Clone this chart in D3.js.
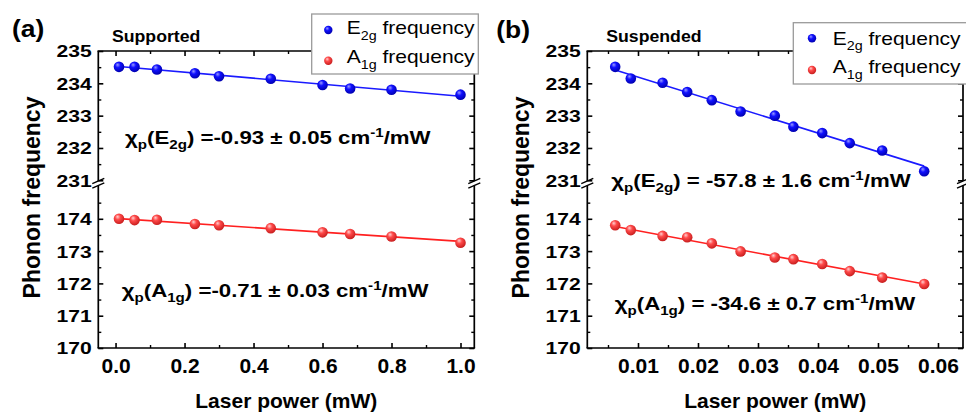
<!DOCTYPE html>
<html>
<head>
<meta charset="utf-8">
<script src="https://cdn.jsdelivr.net/npm/d3@7"></script>
<style>
  body { margin: 0; background: #fff; }
  svg { display: block; }
  text { font-family: "Liberation Sans", Arial, Helvetica, sans-serif; fill: #000; }
</style>
</head>
<body>
<svg id="chart" width="966" height="412"></svg>
<script>
// Raman peak positions (cm^-1) versus laser power (mW)
const supportedPower = [0.01, 0.055, 0.12, 0.23, 0.30, 0.45, 0.60, 0.68, 0.80, 1.00];
const supportedE2g = [234.51, 234.51, 234.43, 234.31, 234.22, 234.14, 233.95, 233.84, 233.80, 233.65];
const supportedA1g = [174.00, 173.96, 173.97, 173.84, 173.80, 173.71, 173.58, 173.53, 173.45, 173.26];

const suspendedPower = [0.0062, 0.0088, 0.0141, 0.0182, 0.0223, 0.0271, 0.0328, 0.0359, 0.0407, 0.0453, 0.0507, 0.0577];
const suspendedE2g = [234.51, 234.15, 234.02, 233.73, 233.48, 233.13, 233.00, 232.66, 232.46, 232.15, 231.92, 231.28];
const suspendedA1g = [173.80, 173.65, 173.47, 173.43, 173.24, 172.99, 172.80, 172.75, 172.60, 172.38, 172.18, 171.98];

// Power coefficients chi_p from the linear fits (cm^-1/mW), with their errors
const supportedSlopes = [-0.93, -0.71];
const supportedErrors = [0.05, 0.03];
const suspendedSlopes = [-57.8, -34.6];
const suspendedErrors = [1.6, 0.7];

// Axis ticks
const upperTicks = [231, 232, 233, 234, 235];
const lowerTicks = [170, 171, 172, 173, 174];
const supportedTicks = [0.0, 0.2, 0.4, 0.6, 0.8, 1.0];
const suspendedTicks = [0.01, 0.02, 0.03, 0.04, 0.05, 0.06];

const modeNames = ["E", "A"];
const modeSubs = ["2g", "1g"];
const modeColors = ["blue", "red"];

const svg = d3.select("#chart");
const FONT = "'Liberation Sans', Arial, Helvetica, sans-serif";

// Sphere-like marker fills
const defs = svg.append("defs");
[["blue", "#9a9aff", "#1010ff", "#0000b0"], ["red", "#ffd0d0", "#ff4a4a", "#c81e1e"]].forEach(([id, hi, mid, lo]) => {
  const g = defs.append("radialGradient").attr("id", "ball-" + id)
    .attr("cx", 0.42).attr("cy", 0.38).attr("r", 0.62).attr("fx", 0.36).attr("fy", 0.3);
  g.append("stop").attr("offset", "0%").attr("stop-color", hi);
  g.append("stop").attr("offset", "40%").attr("stop-color", mid);
  g.append("stop").attr("offset", "100%").attr("stop-color", lo);
});

// Shared broken y-axis: upper segment for E2g, lower segment for A1g
const yTop = 51, yBottom = 348, breakA = 181, breakB = 185.5;
const yUpper = d3.scaleLinear().domain([231, 235]).range([180.3, yTop]);
const yLower = d3.scaleLinear().domain([170, 175]).range([yBottom, 186.5]);
const yScales = [yUpper, yLower];

// Text with sub/superscripts: parts = [[text, "sub"|"sup"|undefined], ...]
function rich(sel, parts, fs, weight) {
  const t = sel.append("text").attr("font-size", fs).attr("font-weight", weight || "normal");
  let shift = 0;
  parts.forEach(([s, kind]) => {
    const target = kind === "sub" ? fs * 0.3 : kind === "sup" ? -fs * 0.4 : 0;
    t.append("tspan").attr("dy", target - shift).attr("font-size", kind ? fs * 0.68 : fs).text(s);
    shift = target;
  });
  return t;
}

const panels = [
  {
    power: supportedPower, series: [supportedE2g, supportedA1g],
    slopes: supportedSlopes, errors: supportedErrors, ticks: supportedTicks,
    x0: 98.3, x1: 474.3, domain: [-0.05, 1.04], minorStep: 0.1, fmt: ".1f", coefFmt: ".2f", eq: "=",
    tag: "(a)", tagX: 12, tagY: 37, title: "Supported", titleX: 112, yTitleX: 40,
    legend: { x: 311.7, y: 14, w: 166.6, h: 60, mx: 328.3, my: [30, 60.7], tx: 346.7, ty: [34.3, 63.3] },
    notes: [[125, 144], [121.7, 296.7]]
  },
  {
    power: suspendedPower, series: [suspendedE2g, suspendedA1g],
    slopes: suspendedSlopes, errors: suspendedErrors, ticks: suspendedTicks,
    x0: 587.3, x1: 963, domain: [0.00155, 0.06417], minorStep: 0.005, fmt: ".2f", coefFmt: ".1f", eq: "= ",
    tag: "(b)", tagX: 496.3, tagY: 38, title: "Suspended", titleX: 606.3, yTitleX: 528.5,
    legend: { x: 793.3, y: 22.7, w: 190, h: 61.3, mx: 812, my: [38.3, 70], tx: 832.7, ty: [45, 73.3] },
    notes: [[611.3, 186.7], [614.7, 310]]
  }
];

panels.forEach(p => {
  const g = svg.append("g");
  const x = d3.scaleLinear().domain(p.domain).range([p.x0, p.x1]);
  const xMinor = d3.range(Math.ceil(p.domain[0] / p.minorStep), Math.floor(p.domain[1] / p.minorStep) + 1)
    .map(i => +(i * p.minorStep).toFixed(6))
    .filter(v => !p.ticks.some(t => Math.abs(t - v) < 1e-9));

  // Frame with breaks on the vertical sides
  const frame = g.append("g").attr("stroke", "#000").attr("stroke-width", 1.7).attr("fill", "none");
  frame.append("line").attr("x1", p.x0 - 0.8).attr("x2", p.x1 + 0.8).attr("y1", yTop).attr("y2", yTop);
  frame.append("line").attr("x1", p.x0 - 0.8).attr("x2", p.x1 + 0.8).attr("y1", yBottom).attr("y2", yBottom);
  [p.x0, p.x1].forEach(xv => {
    frame.append("line").attr("x1", xv).attr("x2", xv).attr("y1", yTop).attr("y2", breakA);
    frame.append("line").attr("x1", xv).attr("x2", xv).attr("y1", breakB).attr("y2", yBottom);
    [breakA, breakB].forEach(yb => {
      frame.append("line").attr("stroke-width", 1.4)
        .attr("x1", xv - 6).attr("y1", yb + 2.6).attr("x2", xv + 6).attr("y2", yb - 2.6);
    });
  });

  // Ticks (all pointing inward)
  function styleAxis(sel, w) {
    sel.select(".domain").remove();
    sel.selectAll("line").attr("stroke-width", w);
  }
  const xMajorB = d3.axisBottom(x).tickValues(p.ticks).tickSizeInner(-5).tickSizeOuter(0).tickPadding(10).tickFormat(d3.format(p.fmt));
  const xAxisB = g.append("g").attr("transform", `translate(0,${yBottom})`).call(xMajorB);
  styleAxis(xAxisB, 1.6);
  xAxisB.selectAll("text").attr("font-family", FONT).attr("font-size", 21).attr("font-weight", "bold")
    .attr("y", 0).attr("dy", 0).attr("transform", "translate(0,25.3)");
  g.append("g").attr("transform", `translate(0,${yBottom})`)
    .call(d3.axisBottom(x).tickValues(xMinor).tickSizeInner(-3).tickSizeOuter(0).tickFormat(""))
    .call(s => styleAxis(s, 1.4));
  g.append("g").attr("transform", `translate(0,${yTop})`)
    .call(d3.axisTop(x).tickValues(p.ticks).tickSizeInner(-5).tickSizeOuter(0).tickFormat(""))
    .call(s => styleAxis(s, 1.6));
  g.append("g").attr("transform", `translate(0,${yTop})`)
    .call(d3.axisTop(x).tickValues(xMinor).tickSizeInner(-3).tickSizeOuter(0).tickFormat(""))
    .call(s => styleAxis(s, 1.4));

  [[yUpper, upperTicks], [yLower, lowerTicks]].forEach(([ys, tv]) => {
    const minorY = tv.map(v => v + 0.5).filter(v => v < ys.domain()[1]);
    const left = g.append("g").attr("transform", `translate(${p.x0},0)`)
      .call(d3.axisLeft(ys).tickValues(tv).tickSizeInner(-5).tickSizeOuter(0).tickPadding(6.6).tickFormat(d3.format("d")));
    styleAxis(left, 1.6);
    left.selectAll("text").attr("font-family", FONT).attr("font-size", 16.5).attr("font-weight", "bold")
      .attr("x", 0).attr("dy", 0).attr("transform", "translate(-6.6,5.9) scale(1.28,1)");
    g.append("g").attr("transform", `translate(${p.x0},0)`)
      .call(d3.axisLeft(ys).tickValues(minorY).tickSizeInner(-3).tickSizeOuter(0).tickFormat(""))
      .call(s => styleAxis(s, 1.4));
    g.append("g").attr("transform", `translate(${p.x1},0)`)
      .call(d3.axisRight(ys).tickValues(tv.filter(v => v !== 235)).tickSizeInner(-5).tickSizeOuter(0).tickFormat(""))
      .call(s => styleAxis(s, 1.6));
    g.append("g").attr("transform", `translate(${p.x1},0)`)
      .call(d3.axisRight(ys).tickValues(minorY).tickSizeInner(-3).tickSizeOuter(0).tickFormat(""))
      .call(s => styleAxis(s, 1.4));
  });

  // Linear fits (fixed slope, intercept through the data centroid) and data points
  p.series.forEach((vals, i) => {
    const ys = yScales[i];
    const slope = p.slopes[i];
    const b = d3.mean(vals) - slope * d3.mean(p.power);
    const ends = d3.extent(p.power);
    g.append("path")
      .attr("d", d3.line().x(d => x(d)).y(d => ys(b + slope * d))(ends))
      .attr("stroke", modeColors[i] === "blue" ? "#1a1aff" : "#ff2020")
      .attr("stroke-width", 1.6).attr("fill", "none");
    g.append("g").selectAll("circle").data(vals).join("circle")
      .attr("cx", (d, j) => x(p.power[j])).attr("cy", d => ys(d)).attr("r", 5.3)
      .attr("fill", `url(#ball-${modeColors[i]})`);
  });

  // Legend
  const L = p.legend;
  const lg = g.append("g");
  lg.append("rect").attr("x", L.x).attr("y", L.y).attr("width", L.w).attr("height", L.h)
    .attr("fill", "#fff").attr("stroke", "#9a9a9a").attr("stroke-width", 1.3);
  modeNames.forEach((nm, i) => {
    lg.append("circle").attr("cx", L.mx).attr("cy", L.my[i]).attr("r", 4.2).attr("fill", `url(#ball-${modeColors[i]})`);
    const holder = lg.append("g").attr("transform", `translate(${L.tx},${L.ty[i]}) scale(1.2,1)`);
    rich(holder, [[nm], [modeSubs[i], "sub"], [" frequency"]], 17.5, "normal");
  });

  // Power-coefficient annotations
  p.notes.forEach(([nx, ny], i) => {
    const holder = g.append("g").attr("transform", `translate(${nx},${ny}) scale(1.27,1)`);
    const coef = d3.format(p.coefFmt)(p.slopes[i]).replace("−", "-");
    const err = d3.format(p.coefFmt)(p.errors[i]);
    rich(holder, [["χ"], ["p", "sub"], ["(" + modeNames[i]], [modeSubs[i], "sub"],
      [`) ${p.eq}${coef} ± ${err} cm`], ["-1", "sup"], ["/mW"]], 17.5, "bold");
  });

  // Labels
  g.append("g").attr("transform", `translate(${p.tagX},${p.tagY}) scale(1.1,1)`)
    .append("text").attr("font-size", 24).attr("font-weight", "bold").text(p.tag);
  g.append("g").attr("transform", `translate(${p.titleX},42) scale(1.04,1)`)
    .append("text").attr("font-size", 17).attr("font-weight", "bold").text(p.title);
  g.append("text").attr("x", (p.x0 + p.x1) / 2).attr("y", 407.5).attr("text-anchor", "middle")
    .attr("font-size", 21).attr("font-weight", "bold").text("Laser power (mW)");
  g.append("text").attr("transform", `translate(${p.yTitleX},${(yTop + yBottom) / 2 - 2}) rotate(-90)`)
    .attr("text-anchor", "middle").attr("font-size", 23).attr("font-weight", "bold").text("Phonon frequency");
});
</script>
</body>
</html>
